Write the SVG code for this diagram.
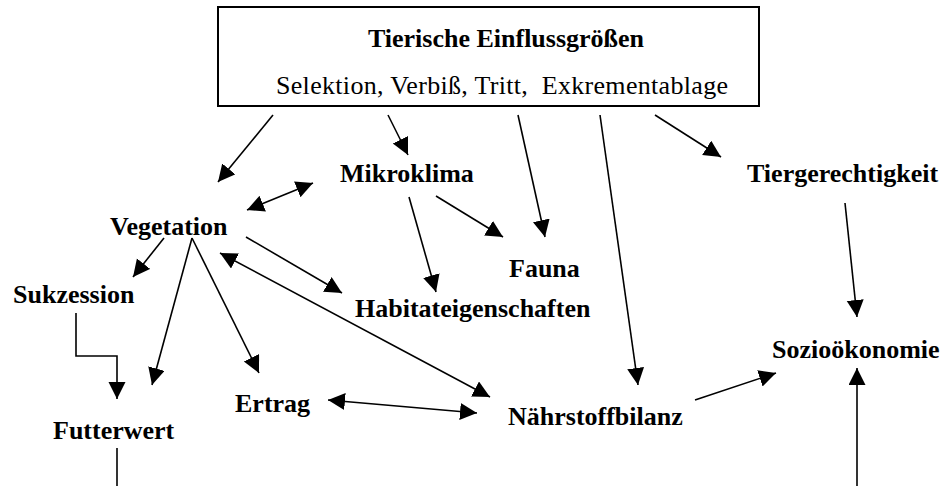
<svg xmlns="http://www.w3.org/2000/svg" width="945" height="486" viewBox="0 0 945 486">
<style>
.n{font-family:"Liberation Serif","Times New Roman",serif;font-weight:bold;font-size:26px;fill:#000}
.s{font-family:"Liberation Serif","Times New Roman",serif;font-size:26px;fill:#000;white-space:pre}
.c line,.c path{stroke:#000;stroke-width:1.6;fill:none}
.e{marker-end:url(#ah)}
.b{marker-start:url(#ah);marker-end:url(#ah)}
</style>
<defs>
<marker id="ah" markerUnits="userSpaceOnUse" markerWidth="18" markerHeight="18" refX="17" refY="8.5" orient="auto-start-reverse">
<path d="M0,0 L17,8.5 L0,17 z" fill="#000"/>
</marker>
</defs>
<rect width="945" height="486" fill="#fff"/>
<g id="einfluss">
<rect x="218" y="7" width="541" height="99" fill="#fff" stroke="#000" stroke-width="2"/>
<text class="n" x="506" y="47" text-anchor="middle">Tierische Einflussgrößen</text>
<text class="s" x="276" y="94" textLength="452" lengthAdjust="spacing" xml:space="preserve">Selektion, Verbiß, Tritt,  Exkrementablage</text>
</g>
<g id="mikroklima"><text class="n" x="340" y="182">Mikroklima</text></g>
<g id="tiergerechtigkeit"><text class="n" x="747" y="182">Tiergerechtigkeit</text></g>
<g id="vegetation"><text class="n" x="110" y="235">Vegetation</text></g>
<g id="fauna"><text class="n" x="509" y="277">Fauna</text></g>
<g id="sukzession"><text class="n" x="13" y="303">Sukzession</text></g>
<g id="habitat"><text class="n" x="355" y="317">Habitateigenschaften</text></g>
<g id="sozio"><text class="n" x="772" y="358">Sozioökonomie</text></g>
<g id="ertrag"><text class="n" x="235" y="412">Ertrag</text></g>
<g id="naehrstoff"><text class="n" x="508" y="425">Nährstoffbilanz</text></g>
<g id="futterwert"><text class="n" x="53" y="439">Futterwert</text></g>
<g id="connectors" class="c">
<line class="e" x1="273" y1="115" x2="218" y2="182"/>
<line class="e" x1="388" y1="115" x2="408" y2="155"/>
<line class="e" x1="518" y1="115" x2="545" y2="237"/>
<line class="e" x1="600" y1="115" x2="638" y2="385"/>
<line class="e" x1="655" y1="115" x2="721" y2="157"/>
<line class="b" x1="247" y1="210" x2="313" y2="183"/>
<line class="e" x1="409" y1="197" x2="436" y2="292"/>
<line class="e" x1="436" y1="196" x2="503" y2="237"/>
<line class="e" x1="845" y1="203" x2="857" y2="317"/>
<line class="e" x1="164" y1="238" x2="133" y2="277"/>
<line class="e" x1="192" y1="238" x2="152" y2="385"/>
<line class="e" x1="192" y1="238" x2="259" y2="373"/>
<line class="e" x1="246" y1="237" x2="342" y2="293"/>
<line class="b" x1="220" y1="253" x2="490" y2="397"/>
<path class="e" d="M76,313 V356 H117 V399"/>
<line class="b" x1="328" y1="400" x2="477" y2="413"/>
<line class="e" x1="695" y1="400" x2="776" y2="373"/>
<line class="e" x1="857" y1="490" x2="857" y2="368"/>
<line x1="117" y1="448" x2="117" y2="490"/>
</g>
</svg>
